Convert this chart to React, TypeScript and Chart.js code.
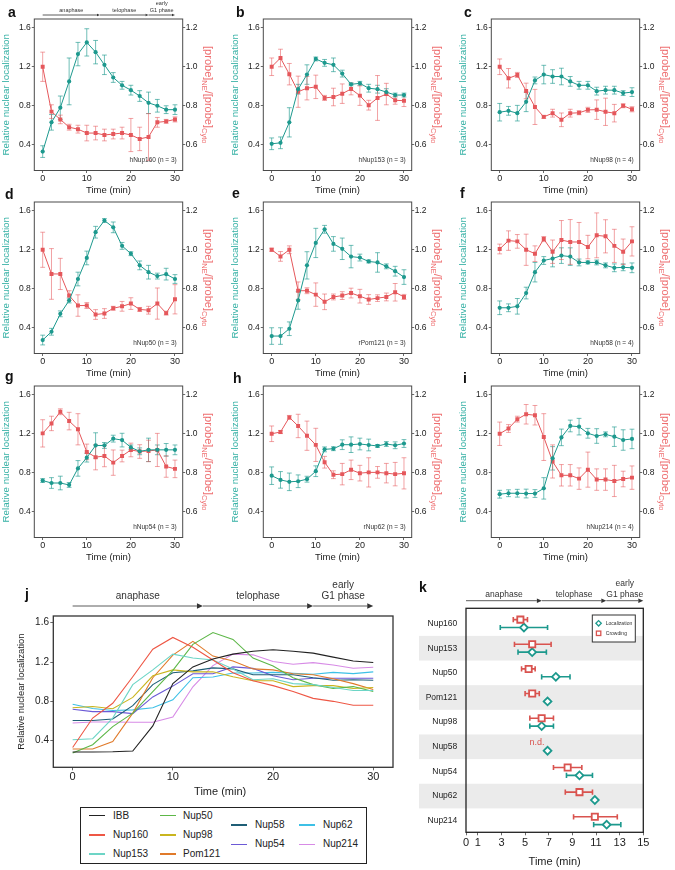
import React, { useEffect, useRef } from 'react';
import { Chart, registerables } from 'chart.js';

Chart.register(...registerables);

// ---------------- data ----------------
const TIMES = [0, 2, 4, 6, 8, 10, 12, 14, 16, 18, 20, 22, 24, 26, 28, 30];

// a  hNup160
const A_LOC = [0.33, 0.63, 0.78, 1.05, 1.33, 1.45, 1.35, 1.22, 1.09, 1.01, 0.96, 0.9, 0.83, 0.8, 0.76, 0.76];
const A_LOC_ERR = [0.06, 0.08, 0.12, 0.24, 0.12, 0.14, 0.12, 0.1, 0.05, 0.04, 0.05, 0.055, 0.11, 0.065, 0.04, 0.05];
const A_CRW = [1.0, 0.77, 0.73, 0.69, 0.68, 0.66, 0.66, 0.65, 0.655, 0.66, 0.65, 0.63, 0.64, 0.715, 0.72, 0.73];
const A_CRW_ERR = [0.075, 0.035, 0.022, 0.015, 0.02, 0.04, 0.035, 0.03, 0.025, 0.03, 0.085, 0.06, 0.12, 0.025, 0.01, 0.013];
// b  hNup153
const B_LOC = [0.41, 0.42, 0.63, 0.97, 1.12, 1.28, 1.24, 1.22, 1.13, 1.02, 1.03, 0.98, 0.97, 0.94, 0.91, 0.91];
const B_LOC_ERR = [0.06, 0.06, 0.15, 0.05, 0.1, 0.02, 0.035, 0.07, 0.035, 0.015, 0.02, 0.04, 0.04, 0.035, 0.02, 0.02];
const B_CRW = [1.0, 1.045, 0.962, 0.872, 0.89, 0.897, 0.84, 0.845, 0.862, 0.886, 0.852, 0.803, 0.84, 0.86, 0.828, 0.826];
const B_CRW_ERR = [0.045, 0.045, 0.055, 0.08, 0.06, 0.06, 0.013, 0.045, 0.05, 0.03, 0.05, 0.025, 0.115, 0.055, 0.02, 0.03];
// c  hNup98
const C_LOC = [0.734, 0.748, 0.724, 0.84, 1.06, 1.12, 1.1, 1.1, 1.05, 1.01, 1.01, 0.95, 0.96, 0.96, 0.93, 0.94];
const C_LOC_ERR = [0.09, 0.045, 0.08, 0.1, 0.035, 0.095, 0.07, 0.085, 0.05, 0.04, 0.04, 0.04, 0.04, 0.04, 0.025, 0.045];
const C_CRW = [1.0, 0.941, 0.958, 0.876, 0.794, 0.743, 0.762, 0.728, 0.762, 0.764, 0.779, 0.78, 0.769, 0.762, 0.8, 0.782];
const C_CRW_ERR = [0.04, 0.05, 0.013, 0.04, 0.09, 0.008, 0.02, 0.035, 0.02, 0.01, 0.013, 0.05, 0.07, 0.045, 0.01, 0.013];
// d  hNup50
const D_LOC = [0.274, 0.359, 0.543, 0.68, 0.9, 1.116, 1.38, 1.5, 1.43, 1.24, 1.16, 1.04, 0.97, 0.93, 0.95, 0.9];
const D_LOC_ERR = [0.05, 0.035, 0.03, 0.025, 0.07, 0.07, 0.06, 0.02, 0.055, 0.035, 0.02, 0.045, 0.07, 0.03, 0.06, 0.045];
const D_CRW = [1.0, 0.876, 0.876, 0.765, 0.714, 0.714, 0.668, 0.673, 0.7, 0.71, 0.724, 0.694, 0.69, 0.724, 0.675, 0.746];
const D_CRW_ERR = [0.09, 0.13, 0.08, 0.025, 0.055, 0.015, 0.025, 0.025, 0.01, 0.025, 0.03, 0.01, 0.02, 0.08, 0.01, 0.075];
// e  rPom121
const E_LOC = [0.315, 0.315, 0.39, 0.68, 1.04, 1.27, 1.41, 1.26, 1.21, 1.13, 1.12, 1.08, 1.07, 1.03, 0.98, 0.92];
const E_LOC_ERR = [0.085, 0.085, 0.07, 0.09, 0.14, 0.15, 0.04, 0.075, 0.11, 0.115, 0.035, 0.015, 0.1, 0.025, 0.05, 0.075];
const E_CRW = [1.0, 0.966, 1.0, 0.79, 0.79, 0.77, 0.733, 0.758, 0.765, 0.778, 0.762, 0.745, 0.752, 0.758, 0.782, 0.758];
const E_CRW_ERR = [0.008, 0.025, 0.02, 0.045, 0.015, 0.06, 0.04, 0.015, 0.02, 0.025, 0.035, 0.025, 0.017, 0.02, 0.045, 0.013];
// f  hNup58
const F_LOC = [0.605, 0.605, 0.62, 0.756, 0.97, 1.09, 1.11, 1.14, 1.13, 1.07, 1.07, 1.07, 1.04, 1.015, 1.02, 1.015];
const F_LOC_ERR = [0.07, 0.04, 0.08, 0.06, 0.1, 0.04, 0.085, 0.08, 0.09, 0.035, 0.015, 0.025, 0.025, 0.04, 0.035, 0.05];
const F_CRW = [1.004, 1.047, 1.043, 1.0, 0.98, 1.055, 0.99, 1.05, 1.04, 1.04, 1.014, 1.074, 1.069, 1.02, 0.99, 1.043];
const F_CRW_ERR = [0.025, 0.05, 0.035, 0.08, 0.04, 0.013, 0.06, 0.1, 0.115, 0.1, 0.06, 0.115, 0.085, 0.085, 0.065, 0.075];
// g  hNup54
const G_LOC = [0.72, 0.695, 0.695, 0.675, 0.845, 0.955, 1.08, 1.08, 1.15, 1.135, 1.06, 1.02, 1.035, 1.035, 1.035, 1.035];
const G_LOC_ERR = [0.02, 0.055, 0.07, 0.025, 0.08, 0.045, 0.13, 0.03, 0.035, 0.07, 0.025, 0.035, 0.12, 0.05, 0.065, 0.05];
const G_CRW = [1.002, 1.053, 1.113, 1.065, 1.023, 0.907, 0.88, 0.886, 0.852, 0.886, 0.917, 0.909, 0.912, 0.917, 0.832, 0.82];
const G_CRW_ERR = [0.07, 0.037, 0.015, 0.045, 0.08, 0.04, 0.065, 0.055, 0.065, 0.03, 0.035, 0.035, 0.055, 0.085, 0.055, 0.045];
// h  rNup62
const H_LOC = [0.77, 0.727, 0.707, 0.713, 0.734, 0.816, 1.04, 1.047, 1.088, 1.088, 1.095, 1.085, 1.075, 1.095, 1.082, 1.1];
const H_LOC_ERR = [0.09, 0.085, 0.09, 0.065, 0.03, 0.055, 0.025, 0.02, 0.05, 0.08, 0.06, 0.06, 0.015, 0.025, 0.035, 0.04];
const H_CRW = [1.0, 1.009, 1.084, 1.04, 0.99, 0.943, 0.854, 0.79, 0.793, 0.815, 0.798, 0.802, 0.802, 0.798, 0.793, 0.797];
const H_CRW_ERR = [0.04, 0.008, 0.01, 0.06, 0.075, 0.085, 0.03, 0.02, 0.055, 0.05, 0.04, 0.075, 0.03, 0.05, 0.06, 0.08];
// i  hNup214
const I_LOC = [0.58, 0.59, 0.59, 0.587, 0.587, 0.64, 0.948, 1.163, 1.28, 1.273, 1.205, 1.177, 1.194, 1.17, 1.136, 1.147];
const I_LOC_ERR = [0.04, 0.035, 0.04, 0.045, 0.04, 0.11, 0.12, 0.085, 0.06, 0.085, 0.05, 0.075, 0.025, 0.1, 0.105, 0.1];
const I_CRW = [1.0, 1.027, 1.075, 1.1, 1.095, 0.983, 0.858, 0.787, 0.787, 0.77, 0.816, 0.765, 0.765, 0.758, 0.768, 0.775];
const I_CRW_ERR = [0.06, 0.02, 0.015, 0.05, 0.05, 0.12, 0.085, 0.055, 0.055, 0.055, 0.09, 0.055, 0.055, 0.08, 0.04, 0.06];
// j  IBB
const IBB_LOC = [0.285, 0.285, 0.287, 0.295, 0.55, 0.98, 1.15, 1.23, 1.28, 1.31, 1.325, 1.31, 1.29, 1.25, 1.21, 1.195];

const J_NAMES = ['IBB', 'Nup160', 'Nup153', 'Nup50', 'Nup98', 'Pom121', 'Nup58', 'Nup54', 'Nup62', 'Nup214'];
const J_VALUES = [IBB_LOC, A_LOC, B_LOC, D_LOC, C_LOC, E_LOC, F_LOC, G_LOC, H_LOC, I_LOC];

// k
const K_NAMES = ['Nup160', 'Nup153', 'Nup50', 'Pom121', 'Nup98', 'Nup58', 'Nup54', 'Nup62', 'Nup214'];
const K_LOC = [4.9, 5.6, 7.6, 6.9, 6.4, 6.9, 9.6, 10.9, 11.9];
const K_LOC_LO = [2.9, 4.4, 6.4, null, 5.4, null, 8.5, null, 10.8];
const K_LOC_HI = [6.9, 6.8, 8.8, null, 7.4, null, 10.7, null, 13.1];
const K_CRW = [4.6, 5.6, 5.3, 5.6, 6.4, null, 8.6, 9.6, 10.9];
const K_CRW_LO = [4.0, 4.1, 4.7, 5.0, 5.4, null, 7.4, 8.4, 9.1];
const K_CRW_HI = [5.2, 7.2, 5.85, 6.2, 7.4, null, 9.8, 10.7, 12.8];
const K_ND_NAME = 'Nup58';
const K_ND_X = 6.0;

// ticks & phases
const SMALL_X_TICKS = [0, 10, 20, 30];
const LOC_TICKS = [0.4, 0.8, 1.2, 1.6];
const CRW_TICKS = [0.6, 0.8, 1.0, 1.2];
const K_X_TICKS = [0, 1, 3, 5, 7, 9, 11, 13, 15];
const PHASE_LABELS = ['anaphase', 'telophase', 'early\nG1 phase'];
const PHASE_BOUNDS = [0, 13, 24, 30];
const K_PHASE_BOUNDS = [0, 6.42, 11.87, 15];

// ---------------- styles ----------------
const FONT = '"Liberation Sans", Arial, Helvetica, sans-serif';
const INK = '#222222';
const TEAL = '#1D998E';
const TEAL_ERR = 'rgba(29,153,142,0.7)';
const TEAL_TITLE = '#36B1A5';
const RED = '#E5575B';
const RED_ERR = 'rgba(229,87,91,0.62)';
const RED_TITLE = '#EE6E70';
const J_COLORS = ['#222222', '#EE5745', '#6DD5C6', '#5DB748', '#C9B51F', '#E07A2A', '#1F5E76', '#6C5AD6', '#3DC0E6', '#D78BE6'];
const K_TEAL = '#1C998D';
const K_RED = '#D9534F';

Chart.defaults.font.family = FONT;

// ---------------- layout ----------------
const SMALL_W = 218;
const SMALL_H = 200;
const SMALL_CA = { left: 34.3, right: 182.7, top: 19, bottom: 170.5 };
const COL_LEFT = [0, 229, 457.3];
const ROW_TOP = [0, 183.3, 367];
const X_RANGE = [-1.9, 31.75];
const LOC_RANGE = [0.136, 1.69];
const CRW_RANGE = [0.468, 1.245];

const J_BOX = { left: 0, top: 580, width: 400, height: 225 };
const J_CA = { left: 53.3, right: 393, top: 36, bottom: 187.3 };
const J_X_RANGE = [-1.93, 31.97];
const J_Y_RANGE = [0.129, 1.668];

const K_BOX = { left: 380, top: 575, width: 295, height: 295 };
const K_CA = { left: 86, right: 263.3, top: 33.3, bottom: 257.3 };
const K_Y_RANGE = [0.38, 9.47];
const K_SHIFT = 0.16;

const PANELS = [
  { letter: 'a', name: 'hNup160 (n = 3)', loc: A_LOC, locErr: A_LOC_ERR, crw: A_CRW, crwErr: A_CRW_ERR, col: 0, row: 0, header: true },
  { letter: 'b', name: 'hNup153 (n = 3)', loc: B_LOC, locErr: B_LOC_ERR, crw: B_CRW, crwErr: B_CRW_ERR, col: 1, row: 0, header: false },
  { letter: 'c', name: 'hNup98 (n = 4)', loc: C_LOC, locErr: C_LOC_ERR, crw: C_CRW, crwErr: C_CRW_ERR, col: 2, row: 0, header: false },
  { letter: 'd', name: 'hNup50 (n = 3)', loc: D_LOC, locErr: D_LOC_ERR, crw: D_CRW, crwErr: D_CRW_ERR, col: 0, row: 1, header: false },
  { letter: 'e', name: 'rPom121 (n = 3)', loc: E_LOC, locErr: E_LOC_ERR, crw: E_CRW, crwErr: E_CRW_ERR, col: 1, row: 1, header: false },
  { letter: 'f', name: 'hNup58 (n = 4)', loc: F_LOC, locErr: F_LOC_ERR, crw: F_CRW, crwErr: F_CRW_ERR, col: 2, row: 1, header: false },
  { letter: 'g', name: 'hNup54 (n = 3)', loc: G_LOC, locErr: G_LOC_ERR, crw: G_CRW, crwErr: G_CRW_ERR, col: 0, row: 2, header: false },
  { letter: 'h', name: 'rNup62 (n = 3)', loc: H_LOC, locErr: H_LOC_ERR, crw: H_CRW, crwErr: H_CRW_ERR, col: 1, row: 2, header: false },
  { letter: 'i', name: 'hNup214 (n = 4)', loc: I_LOC, locErr: I_LOC_ERR, crw: I_CRW, crwErr: I_CRW_ERR, col: 2, row: 2, header: false },
];

const LETTERS = [
  { t: 'a', x: 8, base: 17 }, { t: 'b', x: 236, base: 17 }, { t: 'c', x: 464, base: 17 },
  { t: 'd', x: 5, base: 199 }, { t: 'e', x: 232, base: 198 }, { t: 'f', x: 460, base: 198 },
  { t: 'g', x: 5, base: 381 }, { t: 'h', x: 233, base: 383 }, { t: 'i', x: 463, base: 383 },
  { t: 'j', x: 25, base: 599 }, { t: 'k', x: 419, base: 592 },
];

const LEGEND_BOX = { left: 80, top: 807, width: 287, height: 57 };
const LEGEND_COLUMNS = [[0, 1, 2], [3, 4, 5], [6, 7], [8, 9]];
const LEGEND_COL_KEY_X = [89, 159.5, 231, 298.5];
const LEGEND_COL_TEXT_X = [113, 183, 255, 323];
const LEGEND_ROWS_3 = [815.7, 834.8, 854.2];
const LEGEND_ROWS_2 = [825, 844.3];

// ---------------- drawing helpers ----------------
function setTicks(values: number[]) {
  return (axis: any) => {
    axis.ticks = values.map((v) => ({ value: v }));
  };
}

function drawFrame(ctx: CanvasRenderingContext2D, ca: any, color: string, lw: number) {
  ctx.save();
  ctx.strokeStyle = color;
  ctx.lineWidth = lw;
  ctx.strokeRect(ca.left, ca.top, ca.right - ca.left, ca.bottom - ca.top);
  ctx.restore();
}

function drawText(ctx: CanvasRenderingContext2D, txt: string, x: number, y: number, size: number, color: string, align: CanvasTextAlign = 'center') {
  ctx.save();
  ctx.font = `${size}px ${FONT}`;
  ctx.fillStyle = color;
  ctx.textAlign = align;
  ctx.textBaseline = 'middle';
  ctx.fillText(txt, x, y);
  ctx.restore();
}

function drawRotText(ctx: CanvasRenderingContext2D, txt: string, x: number, y: number, angle: number, size: number, color: string) {
  ctx.save();
  ctx.translate(x, y);
  ctx.rotate(angle);
  ctx.font = `${size}px ${FONT}`;
  ctx.fillStyle = color;
  ctx.textAlign = 'center';
  ctx.textBaseline = 'middle';
  ctx.fillText(txt, 0, 0);
  ctx.restore();
}

const PROBE_TITLE_PARTS = [
  { t: '[probe]', sub: false },
  { t: 'NE', sub: true },
  { t: '/[probe]', sub: false },
  { t: 'Cyto', sub: true },
];

function drawProbeTitle(ctx: CanvasRenderingContext2D, x: number, y: number, size: number, subSize: number, color: string) {
  ctx.save();
  ctx.translate(x, y);
  ctx.rotate(Math.PI / 2);
  ctx.fillStyle = color;
  ctx.textAlign = 'left';
  ctx.textBaseline = 'alphabetic';
  let total = 0;
  const widths = PROBE_TITLE_PARTS.map((p) => {
    ctx.font = `${p.sub ? subSize : size}px ${FONT}`;
    const w = ctx.measureText(p.t).width;
    total += w;
    return w;
  });
  let cx = -total / 2;
  PROBE_TITLE_PARTS.forEach((p, i) => {
    ctx.font = `${p.sub ? subSize : size}px ${FONT}`;
    ctx.fillText(p.t, cx, p.sub ? size * 0.35 + size * 0.28 : size * 0.35);
    cx += widths[i];
  });
  ctx.restore();
}

function drawHeader(ctx: CanvasRenderingContext2D, xs: any, yArrow: number, bounds: number[], size: number, gap: number, lineGap: number, head: number) {
  ctx.save();
  ctx.strokeStyle = '#333';
  ctx.fillStyle = '#333';
  ctx.lineWidth = 0.8;
  for (let i = 0; i < bounds.length - 1; i++) {
    const x0 = xs.getPixelForValue(bounds[i]);
    const x1 = xs.getPixelForValue(bounds[i + 1]);
    ctx.beginPath();
    ctx.moveTo(x0, yArrow);
    ctx.lineTo(x1 - head, yArrow);
    ctx.stroke();
    ctx.beginPath();
    ctx.moveTo(x1, yArrow);
    ctx.lineTo(x1 - head, yArrow - head * 0.45);
    ctx.lineTo(x1 - head, yArrow + head * 0.45);
    ctx.closePath();
    ctx.fill();
    const lines = PHASE_LABELS[i].split('\n');
    ctx.font = `${size}px ${FONT}`;
    ctx.textAlign = 'center';
    ctx.textBaseline = 'alphabetic';
    const cx = (x0 + x1) / 2;
    lines.forEach((ln, k) => {
      ctx.fillText(ln, cx, yArrow - gap - (lines.length - 1 - k) * lineGap);
    });
  }
  ctx.restore();
}

function drawVErrors(chart: any) {
  const ctx = chart.ctx as CanvasRenderingContext2D;
  const cap = 2.4;
  chart.data.datasets.forEach((ds: any, di: number) => {
    if (!ds.errors) return;
    const meta = chart.getDatasetMeta(di);
    const xs = chart.scales[meta.xAxisID];
    const ys = chart.scales[meta.yAxisID];
    ctx.save();
    ctx.strokeStyle = ds.errorColor;
    ctx.lineWidth = 0.9;
    ds.data.forEach((p: any, i: number) => {
      const e = ds.errors[i];
      if (!e) return;
      const x = xs.getPixelForValue(p.x);
      const y1 = ys.getPixelForValue(p.y - e);
      const y2 = ys.getPixelForValue(p.y + e);
      ctx.beginPath();
      ctx.moveTo(x, y1);
      ctx.lineTo(x, y2);
      ctx.moveTo(x - cap, y1);
      ctx.lineTo(x + cap, y1);
      ctx.moveTo(x - cap, y2);
      ctx.lineTo(x + cap, y2);
      ctx.stroke();
    });
    ctx.restore();
  });
}

function drawHErrors(chart: any) {
  const ctx = chart.ctx as CanvasRenderingContext2D;
  const cap = 2.6;
  chart.data.datasets.forEach((ds: any) => {
    const xs = chart.scales.x;
    const ys = chart.scales.y;
    ctx.save();
    ctx.strokeStyle = ds.borderColor;
    ctx.lineWidth = 1.6;
    ds.data.forEach((p: any) => {
      if (p.lo == null || p.hi == null) return;
      const y = ys.getPixelForValue(p.y);
      const x1 = xs.getPixelForValue(p.lo);
      const x2 = xs.getPixelForValue(p.hi);
      ctx.beginPath();
      ctx.moveTo(x1, y);
      ctx.lineTo(x2, y);
      ctx.moveTo(x1, y - cap);
      ctx.lineTo(x1, y + cap);
      ctx.moveTo(x2, y - cap);
      ctx.lineTo(x2, y + cap);
      ctx.stroke();
    });
    ctx.restore();
  });
}

const tickGrid = (len: number) => ({ display: true, drawOnChartArea: false, drawTicks: true, tickLength: len, color: '#444', lineWidth: 0.8 });

// ---------------- chart builders ----------------
function buildSmall(canvas: HTMLCanvasElement, p: any) {
  const deco = {
    id: 'smallDeco',
    beforeDatasetsDraw(chart: any) {
      drawVErrors(chart);
    },
    afterDraw(chart: any) {
      const ctx = chart.ctx as CanvasRenderingContext2D;
      const ca = chart.chartArea;
      drawFrame(ctx, ca, '#4a4a4a', 1);
      const cy = (ca.top + ca.bottom) / 2;
      drawRotText(ctx, 'Relative nuclear localization', ca.left - 28.3, cy, -Math.PI / 2, 9.8, TEAL_TITLE);
      drawProbeTitle(ctx, ca.right + 26, cy, 11, 7.5, RED_TITLE);
      drawText(ctx, 'Time (min)', (ca.left + ca.right) / 2, ca.bottom + 19.5, 9.5, INK);
      drawText(ctx, p.name, ca.right - 6, ca.bottom - 10, 6.5, '#333', 'right');
      if (p.header) drawHeader(ctx, chart.scales.x, ca.top - 4, PHASE_BOUNDS, 5.5, 3, 7, 3);
    },
  };
  return new Chart(canvas, {
    type: 'line',
    data: {
      datasets: [
        {
          label: 'Localization',
          data: TIMES.map((t, i) => ({ x: t, y: p.loc[i] })),
          yAxisID: 'yL',
          borderColor: TEAL,
          backgroundColor: TEAL,
          borderWidth: 1,
          pointRadius: 2.1,
          pointStyle: 'circle',
          pointBorderWidth: 0,
          tension: 0,
          errors: p.locErr,
          errorColor: TEAL_ERR,
        } as any,
        {
          label: 'Crowding',
          data: TIMES.map((t, i) => ({ x: t, y: p.crw[i] })),
          yAxisID: 'yR',
          borderColor: RED,
          backgroundColor: RED,
          borderWidth: 1,
          pointRadius: 2.8,
          pointStyle: 'rect',
          pointBorderWidth: 0,
          tension: 0,
          errors: p.crwErr,
          errorColor: RED_ERR,
        } as any,
      ],
    },
    options: {
      responsive: false,
      animation: false,
      events: [],
      layout: { padding: { top: SMALL_CA.top, left: 0, right: 0, bottom: 0 } },
      plugins: { legend: { display: false }, tooltip: { enabled: false } },
      scales: {
        x: {
          type: 'linear',
          min: X_RANGE[0],
          max: X_RANGE[1],
          afterBuildTicks: setTicks(SMALL_X_TICKS),
          afterFit: (s: any) => { s.height = SMALL_H - SMALL_CA.bottom; },
          ticks: { font: { size: 9 }, color: INK, padding: 0, maxRotation: 0, autoSkip: false },
          grid: tickGrid(2.5),
          border: { display: false },
        },
        yL: {
          type: 'linear',
          position: 'left',
          min: LOC_RANGE[0],
          max: LOC_RANGE[1],
          afterBuildTicks: setTicks(LOC_TICKS),
          afterFit: (s: any) => { s.width = SMALL_CA.left; },
          ticks: { font: { size: 8.5 }, color: INK, padding: 1, callback: (v: any) => Number(v).toFixed(1) },
          grid: tickGrid(2.5),
          border: { display: false },
        },
        yR: {
          type: 'linear',
          position: 'right',
          min: CRW_RANGE[0],
          max: CRW_RANGE[1],
          afterBuildTicks: setTicks(CRW_TICKS),
          afterFit: (s: any) => { s.width = SMALL_W - SMALL_CA.right; },
          ticks: { font: { size: 8.5 }, color: INK, padding: 0.5, callback: (v: any) => Number(v).toFixed(1) },
          grid: tickGrid(2.5),
          border: { display: false },
        },
      },
    } as any,
    plugins: [deco],
  });
}

function buildJ(canvas: HTMLCanvasElement) {
  const deco = {
    id: 'jDeco',
    afterDraw(chart: any) {
      const ctx = chart.ctx as CanvasRenderingContext2D;
      const ca = chart.chartArea;
      drawFrame(ctx, ca, '#333', 1.3);
      drawRotText(ctx, 'Relative nuclear localization', 21.7, (ca.top + ca.bottom) / 2, -Math.PI / 2, 9.4, INK);
      drawText(ctx, 'Time (min)', (ca.left + ca.right) / 2 - 3, ca.bottom + 24.7, 11, INK);
      drawHeader(ctx, chart.scales.x, ca.top - 10, PHASE_BOUNDS, 10, 7, 11, 6);
    },
  };
  return new Chart(canvas, {
    type: 'line',
    data: {
      datasets: J_NAMES.map((n, i) => ({
        label: n,
        data: TIMES.map((t, k) => ({ x: t, y: J_VALUES[i][k] })),
        borderColor: J_COLORS[i],
        backgroundColor: J_COLORS[i],
        borderWidth: 1.1,
        pointRadius: 0,
        tension: 0,
      })),
    },
    options: {
      responsive: false,
      animation: false,
      events: [],
      layout: { padding: { top: J_CA.top, left: 0, right: J_BOX.width - J_CA.right, bottom: 0 } },
      plugins: { legend: { display: false }, tooltip: { enabled: false } },
      scales: {
        x: {
          type: 'linear',
          min: J_X_RANGE[0],
          max: J_X_RANGE[1],
          afterBuildTicks: setTicks(SMALL_X_TICKS),
          afterFit: (s: any) => { s.height = J_BOX.height - J_CA.bottom; },
          ticks: { font: { size: 11 }, color: INK, padding: 0, maxRotation: 0, autoSkip: false },
          grid: tickGrid(3),
          border: { display: false },
        },
        y: {
          type: 'linear',
          position: 'left',
          min: J_Y_RANGE[0],
          max: J_Y_RANGE[1],
          afterBuildTicks: setTicks(LOC_TICKS),
          afterFit: (s: any) => { s.width = J_CA.left; },
          ticks: { font: { size: 10 }, color: INK, padding: 1.3, callback: (v: any) => Number(v).toFixed(1) },
          grid: tickGrid(3),
          border: { display: false },
        },
      },
    } as any,
    plugins: [deco],
  });
}

function buildK(canvas: HTMLCanvasElement) {
  const crwPts: any[] = [];
  const locPts: any[] = [];
  K_NAMES.forEach((_, i) => {
    if (K_CRW[i] != null) crwPts.push({ x: K_CRW[i], y: i + 1 - K_SHIFT, lo: K_CRW_LO[i], hi: K_CRW_HI[i] });
    if (K_LOC[i] != null) locPts.push({ x: K_LOC[i], y: i + 1 + K_SHIFT, lo: K_LOC_LO[i], hi: K_LOC_HI[i] });
  });
  const deco = {
    id: 'kDeco',
    beforeDraw(chart: any) {
      const ctx = chart.ctx as CanvasRenderingContext2D;
      const ca = chart.chartArea;
      const ys = chart.scales.y;
      ctx.save();
      ctx.fillStyle = '#EBEBEB';
      K_NAMES.forEach((_, i) => {
        if (i % 2 !== 1) return;
        const y0 = ys.getPixelForValue(i + 0.5);
        const y1 = ys.getPixelForValue(i + 1.5);
        ctx.fillRect(ca.left - 47, y0, ca.right - (ca.left - 47), y1 - y0);
      });
      ctx.restore();
    },
    beforeDatasetsDraw(chart: any) {
      drawHErrors(chart);
    },
    afterDraw(chart: any) {
      const ctx = chart.ctx as CanvasRenderingContext2D;
      const ca = chart.chartArea;
      const xs = chart.scales.x;
      const ys = chart.scales.y;
      drawFrame(ctx, ca, '#222', 1.3);
      // n.d. label
      const ndIdx = K_NAMES.indexOf(K_ND_NAME);
      drawText(ctx, 'n.d.', xs.getPixelForValue(K_ND_X), ys.getPixelForValue(ndIdx + 1 - K_SHIFT), 9, K_RED);
      drawText(ctx, 'Time (min)', (ca.left + ca.right) / 2, ca.bottom + 29.4, 11, INK);
      drawHeader(ctx, xs, ca.top - 7.6, K_PHASE_BOUNDS, 8.5, 3.7, 11, 5);
      // legend
      const lw = 43, lh = 27;
      const lx = ca.right - 8 - lw;
      const ly = ca.top + 6.7;
      ctx.save();
      ctx.fillStyle = '#fff';
      ctx.fillRect(lx, ly, lw, lh);
      ctx.strokeStyle = '#333';
      ctx.lineWidth = 1;
      ctx.strokeRect(lx, ly, lw, lh);
      const mx = lx + 6.3;
      const my1 = ly + 8.3;
      const my2 = ly + 18.3;
      ctx.lineWidth = 1.3;
      ctx.strokeStyle = K_TEAL;
      ctx.beginPath();
      ctx.moveTo(mx, my1 - 2.7);
      ctx.lineTo(mx + 2.7, my1);
      ctx.lineTo(mx, my1 + 2.7);
      ctx.lineTo(mx - 2.7, my1);
      ctx.closePath();
      ctx.stroke();
      ctx.strokeStyle = K_RED;
      ctx.strokeRect(mx - 2.2, my2 - 2.2, 4.4, 4.4);
      ctx.restore();
      drawText(ctx, 'Localization', lx + 13.5, my1, 5, '#333', 'left');
      drawText(ctx, 'Crowding', lx + 13.5, my2, 5, '#333', 'left');
    },
  };
  return new Chart(canvas, {
    type: 'scatter',
    data: {
      datasets: [
        {
          label: 'Crowding',
          data: crwPts,
          borderColor: K_RED,
          backgroundColor: '#ffffff',
          pointStyle: 'rect',
          pointRadius: 4.4,
          pointBorderWidth: 1.8,
        },
        {
          label: 'Localization',
          data: locPts,
          borderColor: K_TEAL,
          backgroundColor: '#ffffff',
          pointStyle: 'rectRot',
          pointRadius: 3.9,
          pointBorderWidth: 1.8,
        },
      ],
    },
    options: {
      responsive: false,
      animation: false,
      events: [],
      layout: { padding: { top: K_CA.top, left: 0, right: K_BOX.width - K_CA.right, bottom: 0 } },
      plugins: { legend: { display: false }, tooltip: { enabled: false } },
      scales: {
        x: {
          type: 'linear',
          min: 0,
          max: 15,
          afterBuildTicks: setTicks(K_X_TICKS),
          afterFit: (s: any) => { s.height = K_BOX.height - K_CA.bottom; },
          ticks: { font: { size: 11 }, color: INK, padding: 1.5, maxRotation: 0, autoSkip: false },
          grid: tickGrid(3),
          border: { display: false },
        },
        y: {
          type: 'linear',
          position: 'left',
          reverse: true,
          min: K_Y_RANGE[0],
          max: K_Y_RANGE[1],
          afterBuildTicks: setTicks(K_NAMES.map((_, i) => i + 1)),
          afterFit: (s: any) => { s.width = K_CA.left; },
          ticks: { font: { size: 8.5 }, color: INK, padding: 8.7, callback: (v: any) => K_NAMES[Math.round(Number(v)) - 1] },
          grid: { display: false, drawTicks: false, tickLength: 0 },
          border: { display: false },
        },
      },
    } as any,
    plugins: [deco],
  });
}

// ---------------- components ----------------
function ChartCanvas(props: { left: number; top: number; width: number; height: number; build: (c: HTMLCanvasElement) => Chart }) {
  const ref = useRef<HTMLCanvasElement>(null);
  useEffect(() => {
    const chart = props.build(ref.current as HTMLCanvasElement);
    return () => chart.destroy();
  }, []);
  return (
    <canvas
      ref={ref}
      width={props.width}
      height={props.height}
      style={{ position: 'absolute', left: props.left, top: props.top, width: props.width, height: props.height }}
    />
  );
}

function JLegend() {
  const items: any[] = [];
  LEGEND_COLUMNS.forEach((col, ci) => {
    const rows = col.length === 3 ? LEGEND_ROWS_3 : LEGEND_ROWS_2;
    col.forEach((si, ri) => {
      const y = rows[ri];
      items.push(
        <div key={`k${si}`} style={{ position: 'absolute', left: LEGEND_COL_KEY_X[ci], top: y - 0.75, width: 16, height: 1.5, background: J_COLORS[si] }} />
      );
      items.push(
        <div key={`t${si}`} style={{ position: 'absolute', left: LEGEND_COL_TEXT_X[ci], top: y - 6, height: 12, lineHeight: '12px', fontSize: 10, fontFamily: FONT, color: INK, whiteSpace: 'nowrap' }}>
          {J_NAMES[si]}
        </div>
      );
    });
  });
  return (
    <>
      <div style={{ position: 'absolute', left: LEGEND_BOX.left, top: LEGEND_BOX.top, width: LEGEND_BOX.width, height: LEGEND_BOX.height, border: '1px solid #222', boxSizing: 'border-box' }} />
      {items}
    </>
  );
}

export default function App() {
  return (
    <div style={{ position: 'absolute', left: 0, top: 0, width: 675, height: 870, overflow: 'hidden', background: '#fff' }}>
      {PANELS.map((p) => (
        <ChartCanvas
          key={p.letter}
          left={COL_LEFT[p.col]}
          top={ROW_TOP[p.row]}
          width={SMALL_W}
          height={SMALL_H}
          build={(c) => buildSmall(c, p)}
        />
      ))}
      <ChartCanvas left={J_BOX.left} top={J_BOX.top} width={J_BOX.width} height={J_BOX.height} build={buildJ} />
      <ChartCanvas left={K_BOX.left} top={K_BOX.top} width={K_BOX.width} height={K_BOX.height} build={buildK} />
      <JLegend />
      {LETTERS.map((l) => (
        <div
          key={l.t}
          style={{ position: 'absolute', left: l.x, top: l.base - 12, fontSize: 14, lineHeight: '14px', fontWeight: 'bold', fontFamily: FONT, color: '#111' }}
        >
          {l.t}
        </div>
      ))}
    </div>
  );
}
